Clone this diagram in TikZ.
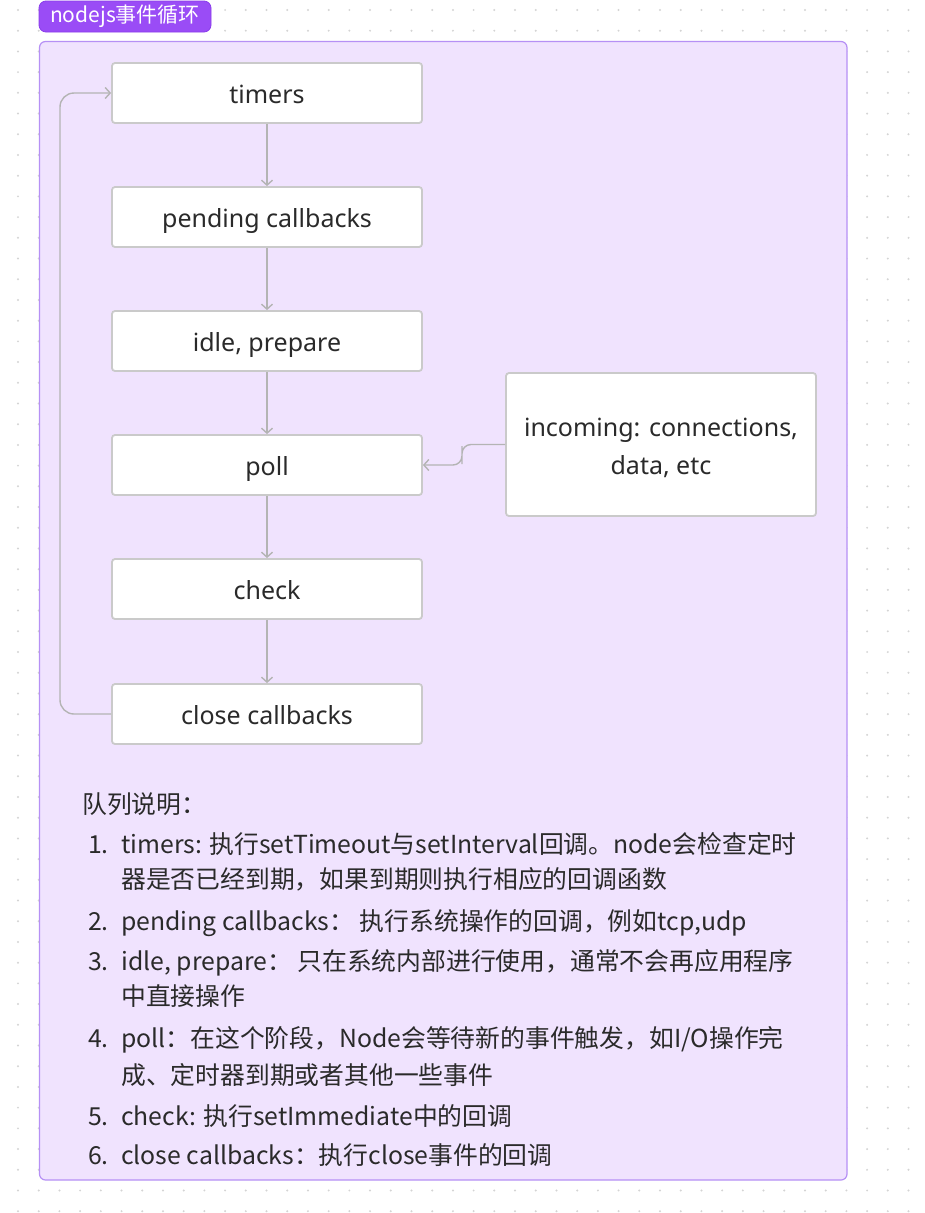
\documentclass[tikz,border=0pt]{standalone}
\usepackage{fontspec}
\setmainfont{Noto Sans CJK SC}
\newfontfamily\boxfont{Noto Sans}
\usetikzlibrary{arrows.meta}
\definecolor{dotc}{HTML}{D4D4D4}
\definecolor{tagfill}{HTML}{9A4CF6}
\definecolor{tagdraw}{HTML}{8A3DEB}
\definecolor{contfill}{HTML}{F0E3FE}
\definecolor{contdraw}{HTML}{B690F5}
\definecolor{boxdraw}{HTML}{CACACA}
\definecolor{arrc}{HTML}{B4B4B4}
\definecolor{txt}{HTML}{2A2A2A}
\tikzset{
  phase/.style={draw=boxdraw, line width=1.8pt, fill=white, rounded corners=3pt,
    minimum width=310pt, minimum height=60pt, inner sep=0pt,
    text height=21pt, text depth=0pt,
    font=\boxfont\fontsize{25}{28}\selectfont, text=txt},
  conn/.style={draw=arrc, line width=1.4pt, -{Straight Barb[length=5pt,width=11pt,line width=1.4pt]}},
  listline/.style={anchor=base west, inner sep=0pt, font=\fontsize{24.8}{28}\selectfont, text=txt},
}
\begin{document}
\begin{tikzpicture}[x=1pt,y=-1pt]
\useasboundingbox (0,0) rectangle (924,1213);
\fill[white] (0,0) rectangle (924,1213);
% dot grid
\foreach \i in {0,...,43}{
  \foreach \j in {0,...,58}{
    \fill[dotc] ({18+20.71*\i},{10+20.71*\j}) circle (1.1pt);
  }
}
% container
\draw[fill=contfill, draw=contdraw, line width=1.2pt, rounded corners=6pt] (39.5,41.5) rectangle (847,1180);
% title tag
\node[fill=tagfill, draw=tagdraw, line width=0.8pt, rounded corners=7pt, minimum width=172pt, minimum height=31pt,
  inner sep=0pt, text=white, font=\fontsize{21}{23}\selectfont] (tag) at (125,16.5) {nodejs事件循环};
% phases
\node[phase] (timers)  at (267,93)  {timers};
\node[phase] (pending) at (267,217) {pending callbacks};
\node[phase] (idle)    at (267,341) {idle, prepare};
\node[phase] (poll)    at (267,465) {poll};
\node[phase] (check)   at (267,589) {check};
\node[phase] (close)   at (267,714) {close callbacks};
\node[phase, minimum height=143pt, align=center, text height=60pt, text depth=0pt,
  font=\boxfont\fontsize{25}{38}\selectfont] (inc) at (661,444.5) {incoming: connections,\\data, etc};
% connectors
\draw[conn] (timers) -- (pending);
\draw[conn] (pending) -- (idle);
\draw[conn] (idle) -- (poll);
\draw[conn] (poll) -- (check);
\draw[conn] (check) -- (close);
\coordinate (loopc) at (60,400);
\draw[conn, rounded corners=14pt] (close.west) -| (loopc) |- (timers.west);
\coordinate (incm) at (462,455);
\draw[conn, rounded corners=9pt] (inc.west) -| (incm) |- (poll.east);
% list
\node[listline] (l0) at (82,813) {队列说明：};
\node[listline] (n1) at (88,853) {1.};
\node[listline] (t1) at (121,853) {timers: 执行setTimeout与setInterval回调。node会检查定时};
\node[listline] (t1b) at (121,888) {器是否已经到期，如果到期则执行相应的回调函数};
\node[listline] (n2) at (88,930) {2.};
\node[listline] (t2) at (121,930) {pending callbacks： 执行系统操作的回调，例如tcp,udp};
\node[listline] (n3) at (88,970) {3.};
\node[listline] (t3) at (121,970) {idle, prepare： 只在系统内部进行使用，通常不会再应用程序};
\node[listline] (t3b) at (121,1005) {中直接操作};
\node[listline] (n4) at (88,1047) {4.};
\node[listline] (t4) at (121,1047) {poll：在这个阶段，Node会等待新的事件触发，如I/O操作完};
\node[listline] (t4b) at (121,1084) {成、定时器到期或者其他一些事件};
\node[listline] (n5) at (88,1125) {5.};
\node[listline] (t5) at (121,1125) {check: 执行setImmediate中的回调};
\node[listline] (n6) at (88,1164) {6.};
\node[listline] (t6) at (121,1164) {close callbacks：执行close事件的回调};
\end{tikzpicture}
\end{document}
